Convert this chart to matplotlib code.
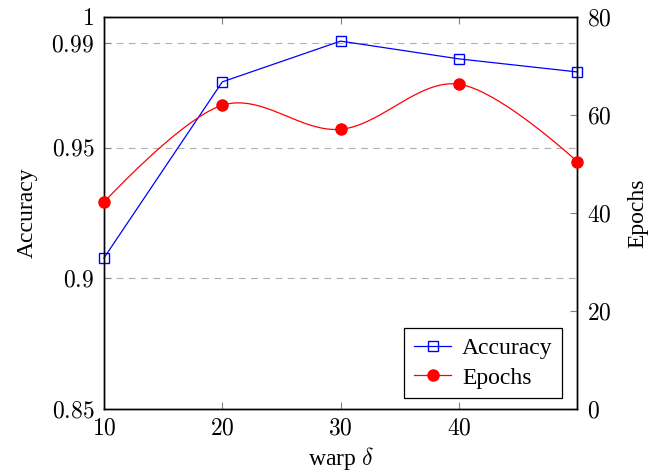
import numpy as np
import matplotlib
matplotlib.use("Agg")
import matplotlib.pyplot as plt

# values
warp = [10, 20, 30, 40, 50]
accuracy = [0.9078, 0.9752, 0.9908, 0.9840, 0.9790]
epochs = [42.2, 62.0, 57.1, 66.3, 50.5]

acc_ticks = [0.85, 0.9, 0.95, 0.99, 1]
acc_labels = ["0.85", "0.9", "0.95", "0.99", "1"]
ep_ticks = [0, 20, 40, 60, 80]
x_ticks = [10, 20, 30, 40]

plt.rcParams['font.family'] = ['Liberation Serif', 'DejaVu Serif']
plt.rcParams['mathtext.fontset'] = 'cm'
plt.rcParams['font.size'] = 17


def smooth(xs, ys, xlim, ylim, w, h, k=0.17, n=40):
    # pgfplots-like "smooth" curve: cubic bezier through the points,
    # built in page units so the bending matches the drawn aspect
    px = (np.asarray(xs) - xlim[0]) / (xlim[1] - xlim[0]) * w
    py = (np.asarray(ys) - ylim[0]) / (ylim[1] - ylim[0]) * h
    P = np.column_stack([px, py])
    out = []
    m = len(P)
    for i in range(m - 1):
        p0, p3 = P[i], P[i + 1]
        t0 = (P[i + 1] - P[i - 1]) if i > 0 else (P[1] - P[0]) * 0
        t1 = (P[i + 2] - P[i]) if i + 2 < m else (P[-1] - P[-2]) * 0
        c1 = p0 + k * t0
        c2 = p3 - k * t1
        t = np.linspace(0, 1, n)[:, None]
        seg = ((1 - t) ** 3) * p0 + 3 * ((1 - t) ** 2) * t * c1 + 3 * (1 - t) * t ** 2 * c2 + t ** 3 * p3
        out.append(seg if i == 0 else seg[1:])
    out = np.vstack(out)
    sx = out[:, 0] / w * (xlim[1] - xlim[0]) + xlim[0]
    sy = out[:, 1] / h * (ylim[1] - ylim[0]) + ylim[0]
    return sx, sy


fig = plt.figure(figsize=(6.62, 4.74), dpi=100)
ax = fig.add_axes([0.157, 0.137, 0.715, 0.827])
ax2 = ax.twinx()

ax.set_xlim(10, 50)
ax.set_ylim(0.85, 1)
ax2.set_ylim(0, 80)

for y in [0.9, 0.95, 0.99]:
    ax.axhline(y, color='#b0b0b0', lw=0.8, ls=(0, (6, 5)), zorder=0)

la, = ax.plot(warp, accuracy, color='blue', lw=0.9, marker='s', ms=7,
              mfc='none', mec='blue', mew=1.0, label='Accuracy', clip_on=False, zorder=3)

sx, sy = smooth(warp, epochs, (10, 50), (0, 80), 4.73, 3.92)
ax2.plot(sx, sy, color='red', lw=0.9, clip_on=False, zorder=3)
ax2.plot(warp, epochs, ls='none', marker='o', ms=8, color='red', clip_on=False, zorder=4)
le, = ax2.plot([], [], color='red', lw=0.9, marker='o', ms=8, label='Epochs')

ax.set_xticks(x_ticks)
ax.set_xticklabels(['$%d$' % v for v in x_ticks])
ax.set_yticks(acc_ticks)
ax.set_yticklabels(['$%s$' % s for s in acc_labels])
ax2.set_yticks(ep_ticks)
ax2.set_yticklabels(['$%d$' % v for v in ep_ticks])

ax.tick_params(axis='both', direction='in', color='#808080', length=5, width=0.8,
               top=True, pad=7, labelsize=17)
ax2.tick_params(axis='y', direction='in', color='#808080', length=5, width=0.8,
                pad=7, labelsize=17)

for a in (ax, ax2):
    for s in a.spines.values():
        s.set_linewidth(1.0)
        s.set_color('black')

ax.set_xlabel(r'warp $\delta$', labelpad=4)
ax.set_ylabel('Accuracy', labelpad=10)
ax2.set_ylabel('Epochs', labelpad=11)

leg = ax2.legend([la, le], ['Accuracy', 'Epochs'], loc='lower right',
                 bbox_to_anchor=(0.968, 0.028), borderaxespad=0,
                 fancybox=False, framealpha=1,
                 edgecolor='black', handlelength=1.6, borderpad=0.4,
                 labelspacing=0.35, handletextpad=0.45, fontsize=17)
leg.get_frame().set_linewidth(0.9)

fig.savefig('out.png', dpi=100)
